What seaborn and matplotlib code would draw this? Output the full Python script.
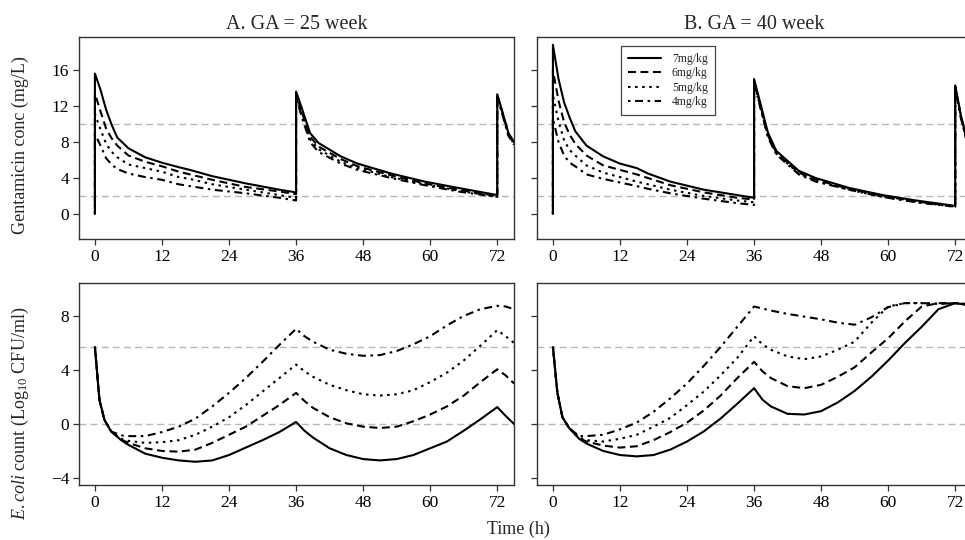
import numpy as np
import pandas as pd
import matplotlib
matplotlib.use("Agg")
import matplotlib.pyplot as plt
from matplotlib.lines import Line2D
import seaborn as sns

doses = ["7mg/kg", "6mg/kg", "5mg/kg", "4mg/kg"]
panel_titles = ["A. GA = 25 week", "B. GA = 40 week"]
x_ticks = [0, 12, 24, 36, 48, 60, 72]
conc_ticks = [0, 4, 8, 12, 16]
log_ticks = [-4, 0, 4, 8]
conc_refs = [10, 2]
log_refs = [5.7, 0]

# gentamicin concentration (mg/L); doses given at 0, 36 and 72 h
t_conc = [0, 0, 1, 2, 3, 4, 6, 9, 12, 15, 17, 21, 27, 33, 36,
          36, 37, 38.5, 40, 44, 47, 53, 59, 65, 72,
          72, 73, 74, 75]

conc25_7 = [0, 15.6, 13.8, 11.6, 9.9, 8.5, 7.3, 6.3, 5.7, 5.2, 4.9, 4.2, 3.4, 2.7, 2.4,
            13.6, 11.8, 9.0, 7.9, 6.4, 5.6, 4.5, 3.6, 2.9, 2.1,
            13.3, 11.2, 9.0, 8.0]
conc25_6 = [0, 13.4, 11.4, 9.5, 8.4, 7.6, 6.5, 5.8, 5.3, 4.7, 4.4, 3.8, 3.0, 2.5, 2.2,
            13.4, 11.4, 8.6, 7.5, 6.1, 5.3, 4.3, 3.4, 2.7, 2.0,
            13.2, 11.1, 8.9, 7.9]
conc25_5 = [0, 11.1, 9.4, 7.8, 6.9, 6.3, 5.5, 5.1, 4.7, 4.1, 3.9, 3.3, 2.7, 2.1, 1.8,
            13.2, 11.1, 8.3, 7.2, 5.8, 5.1, 4.1, 3.3, 2.6, 1.9,
            13.1, 11.0, 8.8, 7.8]
conc25_4 = [0, 8.9, 7.6, 6.2, 5.5, 5.0, 4.5, 4.1, 3.8, 3.3, 3.1, 2.7, 2.3, 1.8, 1.5,
            13.0, 10.8, 8.0, 6.9, 5.6, 4.9, 4.0, 3.2, 2.5, 1.9,
            13.0, 10.9, 8.7, 7.7]

conc40_7 = [0, 18.8, 15.0, 12.4, 10.7, 9.2, 7.6, 6.4, 5.6, 5.1, 4.5, 3.6, 2.7, 2.1, 1.8,
            15.0, 12.6, 9.0, 7.0, 4.8, 4.0, 2.9, 2.1, 1.5, 0.9,
            14.3, 11.0, 8.5, 7.5]
conc40_6 = [0, 16.0, 12.6, 10.2, 8.8, 7.8, 6.5, 5.4, 4.9, 4.4, 4.0, 3.2, 2.4, 1.8, 1.6,
            14.8, 12.3, 8.7, 6.8, 4.6, 3.8, 2.8, 2.0, 1.4, 0.85,
            14.2, 10.9, 8.4, 7.4]
conc40_5 = [0, 13.2, 10.3, 8.2, 7.1, 6.5, 5.4, 4.6, 4.1, 3.6, 3.3, 2.7, 2.0, 1.5, 1.3,
            14.7, 12.2, 8.6, 6.7, 4.5, 3.7, 2.7, 1.9, 1.35, 0.8,
            14.1, 10.8, 8.3, 7.3]
conc40_4 = [0, 10.6, 8.0, 6.5, 5.7, 5.3, 4.4, 3.9, 3.5, 3.1, 2.8, 2.3, 1.7, 1.2, 1.0,
            14.6, 12.1, 8.5, 6.6, 4.4, 3.6, 2.7, 1.9, 1.3, 0.8,
            14.0, 10.7, 8.2, 7.2]

# E. coli count (log10 CFU/ml)
t_log = [0, 0.8, 1.7, 2.9, 4.7, 6, 9, 12, 15, 18, 21, 24, 27, 30, 33, 36,
         37.5, 39, 42, 45, 48, 51, 54, 57, 60, 63, 66, 69, 72, 73.5, 75]

log25_7 = [5.7, 1.8, 0.3, -0.55, -1.2, -1.55, -2.2, -2.5, -2.7, -2.8, -2.7, -2.3, -1.75, -1.2, -0.6, 0.15,
           -0.5, -1.0, -1.8, -2.3, -2.6, -2.7, -2.6, -2.3, -1.8, -1.3, -0.5, 0.35, 1.25, 0.6, 0.0]
log25_6 = [5.7, 1.8, 0.3, -0.55, -1.15, -1.4, -1.8, -2.0, -2.05, -1.9, -1.4, -0.8, -0.2, 0.6, 1.4, 2.3,
           1.7, 1.2, 0.5, 0.05, -0.2, -0.3, -0.2, 0.2, 0.7, 1.3, 2.1, 3.1, 4.05, 3.6, 3.0]
log25_5 = [5.7, 1.8, 0.3, -0.55, -1.1, -1.25, -1.4, -1.35, -1.2, -0.8, -0.2, 0.5, 1.4, 2.4, 3.4, 4.4,
           3.9, 3.5, 2.9, 2.5, 2.2, 2.1, 2.2, 2.5, 3.1, 3.8, 4.7, 5.8, 6.95, 6.5, 6.0]
log25_4 = [5.7, 1.8, 0.3, -0.55, -0.85, -0.9, -0.9, -0.6, -0.2, 0.4, 1.3, 2.3, 3.4, 4.6, 5.85, 7.05,
           6.5, 6.1, 5.5, 5.2, 5.05, 5.1, 5.4, 5.9, 6.5, 7.3, 8.0, 8.5, 8.75, 8.7, 8.5]

log40_7 = [5.7, 2.3, 0.5, -0.3, -1.1, -1.45, -2.0, -2.3, -2.4, -2.3, -1.9, -1.3, -0.55, 0.4, 1.5, 2.65,
           1.8, 1.3, 0.75, 0.7, 0.95, 1.6, 2.45, 3.5, 4.7, 6.0, 7.2, 8.5, 8.95, 8.85, 8.7]
log40_6 = [5.7, 2.3, 0.5, -0.3, -1.05, -1.3, -1.6, -1.75, -1.65, -1.2, -0.6, 0.1, 1.0, 2.1, 3.4, 4.6,
           3.9, 3.4, 2.8, 2.65, 2.9, 3.5, 4.2, 5.3, 6.35, 7.6, 8.7, 8.95, 8.95, 8.9, 8.8]
log40_5 = [5.7, 2.3, 0.5, -0.3, -1.0, -1.2, -1.3, -1.1, -0.8, -0.2, 0.45, 1.4, 2.4, 3.6, 4.9, 6.5,
           5.9, 5.5, 5.0, 4.8, 5.0, 5.5, 6.1, 7.5, 8.7, 8.95, 8.95, 8.9, 8.95, 8.9, 8.8]
log40_4 = [5.7, 2.3, 0.5, -0.3, -0.9, -0.9, -0.8, -0.4, 0.1, 0.9, 1.9, 3.0, 4.3, 5.7, 7.2, 8.7,
           8.55, 8.4, 8.15, 7.95, 7.75, 7.5, 7.35, 7.9, 8.65, 8.95, 8.95, 8.9, 8.95, 8.9, 8.8]


def long_frame(t, series):
    parts = [pd.DataFrame({"time": t, "value": v, "dose": d}) for d, v in zip(doses, series)]
    return pd.concat(parts, ignore_index=True)


sns.set_style("ticks")
plt.rcParams["font.family"] = ["Liberation Serif", "DejaVu Serif"]
plt.rcParams["mathtext.fontset"] = "custom"
plt.rcParams["mathtext.rm"] = "Liberation Serif"
plt.rcParams["mathtext.it"] = "Liberation Serif:italic"

dash_map = {"7mg/kg": "", "6mg/kg": (3.8, 2.2), "5mg/kg": (1.2, 2.2), "4mg/kg": (1.2, 2.2, 3.8, 2.2)}
lw = 1.5
spine_col = "#333333"

fig = plt.figure(figsize=(9.65, 5.4), dpi=100)
W, H = 965, 540


def add_ax(l, t, r, b):
    return fig.add_axes([l / W, 1 - b / H, (r - l) / W, (b - t) / H])


ax_tl = add_ax(79, 37, 514, 239)
ax_tr = add_ax(537, 37, 972, 239)
ax_bl = add_ax(79, 283, 514, 485)
ax_br = add_ax(537, 283, 972, 485)

panels = [
    (ax_tl, long_frame(t_conc, [conc25_7, conc25_6, conc25_5, conc25_4]), conc_refs, conc_ticks, (-2.78, 19.67), True),
    (ax_tr, long_frame(t_conc, [conc40_7, conc40_6, conc40_5, conc40_4]), conc_refs, conc_ticks, (-2.78, 19.67), False),
    (ax_bl, long_frame(t_log, [log25_7, log25_6, log25_5, log25_4]), log_refs, log_ticks, (-4.52, 10.44), True),
    (ax_br, long_frame(t_log, [log40_7, log40_6, log40_5, log40_4]), log_refs, log_ticks, (-4.52, 10.44), False),
]

for ax, df, refs, yt, ylim, show_y in panels:
    for r in refs:
        ax.axhline(r, color="#b8b8b8", lw=1.0, dashes=(5, 3), zorder=1)
    sns.lineplot(data=df, x="time", y="value", style="dose", style_order=doses[::-1],
                 dashes=dash_map, color="black", lw=lw, estimator=None, sort=False,
                 legend=False, ax=ax, zorder=3)
    ax.set_xlim(-2.85, 75.0)
    ax.set_ylim(*ylim)
    ax.set_xticks(x_ticks)
    ax.set_yticks(yt)
    ax.set_xlabel("")
    ax.set_ylabel("")
    ax.tick_params(direction="out", length=4, width=0.9, colors=spine_col,
                   labelcolor="black", labelsize=12.5, pad=3)
    if not show_y:
        ax.tick_params(labelleft=False)
    for s in ax.spines.values():
        s.set_color(spine_col)
        s.set_linewidth(1.0)
        s.set_visible(True)

ax_tl.set_title(panel_titles[0], fontsize=14.5, pad=6)
ax_tr.set_title(panel_titles[1], fontsize=14.5, pad=6)

handles = [Line2D([], [], color="black", lw=lw, linestyle="-")]
handles += [Line2D([], [], color="black", lw=lw, dashes=dash_map[d]) for d in doses[1:]]
leg = ax_tr.legend(handles, doses, loc="upper left", bbox_to_anchor=(0.18, 0.985),
                   fontsize=8.5, frameon=True, fancybox=False, framealpha=1,
                   edgecolor="#444444", labelspacing=0.2, handlelength=2.8,
                   borderpad=0.6, handletextpad=0.9)
leg.get_frame().set_linewidth(0.9)

fig.text(20 / W, 1 - 145 / H, "Gentamicin conc (mg/L)", rotation=90,
         ha="center", va="center", fontsize=13)
fig.text(20 / W, 1 - 413 / H, r"$\it{E.coli}$ count (Log$_{10}$ CFU/ml)", rotation=90,
         ha="center", va="center", fontsize=13)
fig.text(518 / W, 1 - 529 / H, "Time (h)", ha="center", va="center", fontsize=13)

fig.savefig("out.png", dpi=100)
